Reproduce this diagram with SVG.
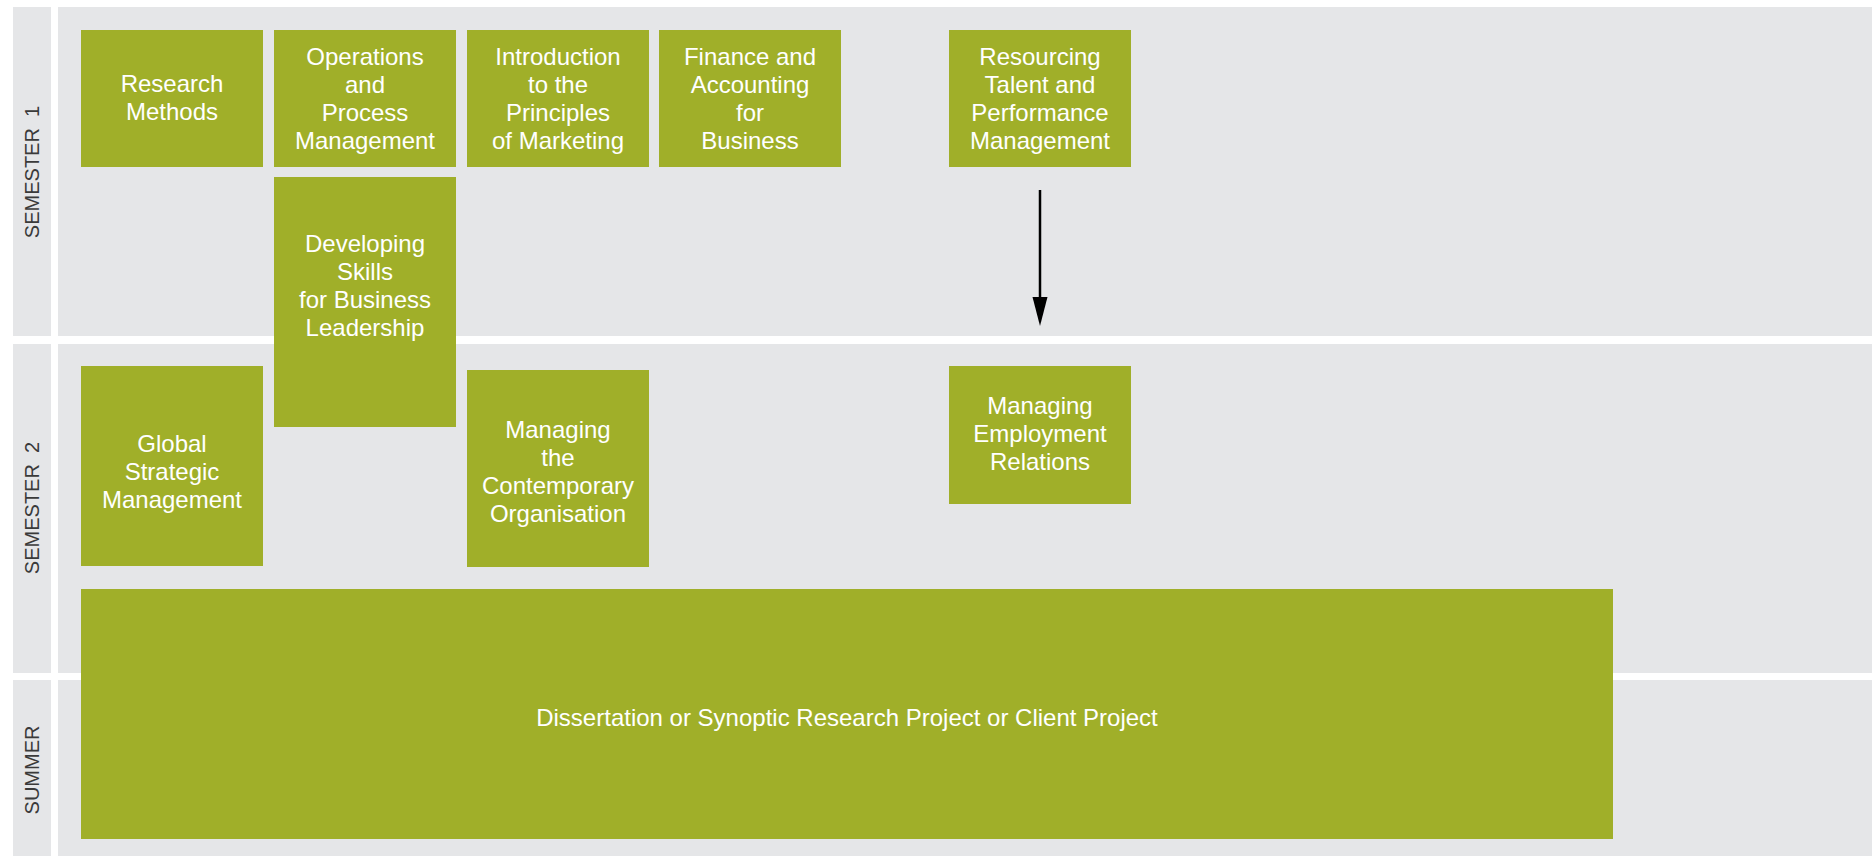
<svg xmlns="http://www.w3.org/2000/svg" width="1872" height="856" viewBox="0 0 1872 856">
<style>
.bg{fill:#E5E6E8}
.node{fill:#A0AF29}
.t{font-family:"Liberation Sans",Arial,Helvetica,sans-serif;font-size:24px;fill:#FFFFFF;text-anchor:middle}
.lbl{font-family:"Liberation Sans",Arial,Helvetica,sans-serif;font-size:20px;fill:#3A3A3A;text-anchor:middle;white-space:pre}
.conn{stroke:#000000;stroke-width:2.5;fill:none}
.head{fill:#000000}
</style>
<rect width="1872" height="856" fill="#FFFFFF"/>
<g id="lanes">
<rect class="bg" x="13" y="7" width="38" height="329"/>
<rect class="bg" x="58" y="7" width="1814" height="329"/>
<rect class="bg" x="13" y="344" width="38" height="329"/>
<rect class="bg" x="58" y="344" width="1814" height="329"/>
<rect class="bg" x="13" y="680" width="38" height="176"/>
<rect class="bg" x="58" y="680" width="1814" height="176"/>
<text class="lbl" xml:space="preserve" transform="translate(39,172) rotate(-90)">SEMESTER  1</text>
<text class="lbl" xml:space="preserve" transform="translate(39,508) rotate(-90)">SEMESTER  2</text>
<text class="lbl" transform="translate(39,770) rotate(-90)">SUMMER</text>
</g>
<g id="research-methods">
<rect class="node" x="81" y="30" width="182" height="137"/>
<text class="t" x="172" y="92">Research</text>
<text class="t" x="172" y="120">Methods</text>
</g>
<g id="operations">
<rect class="node" x="274" y="30" width="182" height="137"/>
<text class="t" x="365" y="65">Operations</text>
<text class="t" x="365" y="93">and</text>
<text class="t" x="365" y="121">Process</text>
<text class="t" x="365" y="149">Management</text>
</g>
<g id="marketing">
<rect class="node" x="467" y="30" width="182" height="137"/>
<text class="t" x="558" y="65">Introduction</text>
<text class="t" x="558" y="93">to the</text>
<text class="t" x="558" y="121">Principles</text>
<text class="t" x="558" y="149">of Marketing</text>
</g>
<g id="finance">
<rect class="node" x="659" y="30" width="182" height="137"/>
<text class="t" x="750" y="65">Finance and</text>
<text class="t" x="750" y="93">Accounting</text>
<text class="t" x="750" y="121">for</text>
<text class="t" x="750" y="149">Business</text>
</g>
<g id="resourcing">
<rect class="node" x="949" y="30" width="182" height="137"/>
<text class="t" x="1040" y="65">Resourcing</text>
<text class="t" x="1040" y="93">Talent and</text>
<text class="t" x="1040" y="121">Performance</text>
<text class="t" x="1040" y="149">Management</text>
</g>
<g id="developing-skills">
<rect class="node" x="274" y="177" width="182" height="250"/>
<text class="t" x="365" y="252">Developing</text>
<text class="t" x="365" y="280">Skills</text>
<text class="t" x="365" y="308">for Business</text>
<text class="t" x="365" y="336">Leadership</text>
</g>
<g id="global-strategic">
<rect class="node" x="81" y="366" width="182" height="200"/>
<text class="t" x="172" y="452">Global</text>
<text class="t" x="172" y="480">Strategic</text>
<text class="t" x="172" y="508">Management</text>
</g>
<g id="contemporary-organisation">
<rect class="node" x="467" y="370" width="182" height="197"/>
<text class="t" x="558" y="438">Managing</text>
<text class="t" x="558" y="466">the</text>
<text class="t" x="558" y="494">Contemporary</text>
<text class="t" x="558" y="522">Organisation</text>
</g>
<g id="employment-relations">
<rect class="node" x="949" y="366" width="182" height="138"/>
<text class="t" x="1040" y="414">Managing</text>
<text class="t" x="1040" y="442">Employment</text>
<text class="t" x="1040" y="470">Relations</text>
</g>
<g id="dissertation">
<rect class="node" x="81" y="589" width="1532" height="250"/>
<text class="t" x="847" y="726">Dissertation or Synoptic Research Project or Client Project</text>
</g>
<g id="connectors">
<line class="conn" x1="1040" y1="190" x2="1040" y2="300"/>
<path class="head" d="M1032.5,297 L1047.5,297 L1040,326 Z"/>
</g>
</svg>
